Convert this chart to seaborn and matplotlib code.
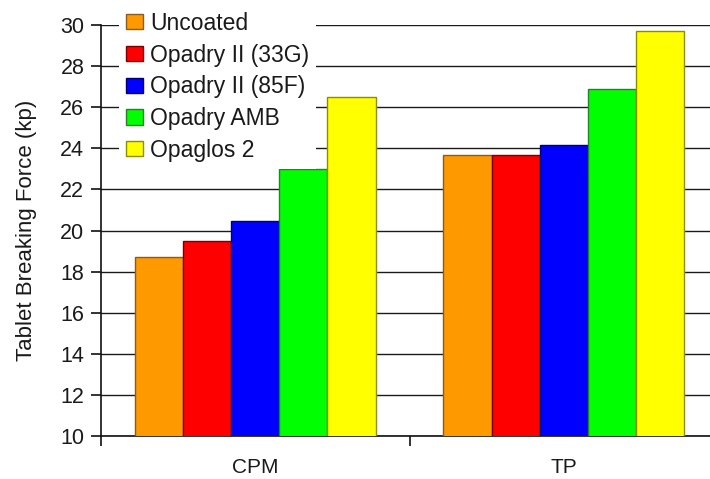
import matplotlib
matplotlib.use('Agg')
import matplotlib.pyplot as plt
from matplotlib.patches import Patch
import pandas as pd
import seaborn as sns

sns.set_theme(style='white')
plt.rcParams['font.family'] = ['Liberation Sans', 'DejaVu Sans']

# data
products = ['CPM', 'TP']
coatings = ['Uncoated', 'Opadry II (33G)', 'Opadry II (85F)', 'Opadry AMB', 'Opaglos 2']
cpm_force = [18.7, 19.5, 20.45, 23.0, 26.5]
tp_force = [23.65, 23.65, 24.15, 26.9, 29.7]

face_colors = ['#FF9900', '#FF0000', '#0000FF', '#00FF00', '#FFFF00']
edge_colors = ['#8A5A1E', '#7A0000', '#000070', '#2E7D2E', '#8C8C00']

df = pd.DataFrame({
    'product': [p for p in products for _ in coatings],
    'coating': coatings * len(products),
    'force': cpm_force + tp_force,
})

fig = plt.figure(figsize=(7.1, 4.79), dpi=100)
ax = fig.add_axes([101 / 710, 1 - 436 / 479, 1 - 101 / 710, (436 - 25) / 479])

sns.barplot(data=df, x='product', y='force', hue='coating', order=products,
            hue_order=coatings, palette=face_colors, saturation=1, width=0.78,
            legend=False, ax=ax, zorder=3)

for cont, ec in zip(ax.containers, edge_colors):
    for bar in cont:
        bar.set_edgecolor(ec)
        bar.set_linewidth(1.0)

ax.set_ylim(10, 30)
ax.set_yticks(range(10, 31, 2))
ax.set_xlim(-0.5, 1.474)
ax.set_axisbelow(True)
ax.yaxis.grid(True, color='#1a1a1a', linewidth=1.0)
ax.xaxis.grid(False)

for side in ['top', 'right']:
    ax.spines[side].set_visible(False)
for side in ['left', 'bottom']:
    ax.spines[side].set_color('#111111')
    ax.spines[side].set_linewidth(1.2)

# category labels centered, ticks on category boundaries
ax.set_xticks([0, 1])
ax.set_xticklabels(products)
ax.set_xticks([-0.5, 0.5], minor=True)
ax.tick_params(axis='x', which='major', length=0, pad=16, labelsize=15, labelcolor='#1a1a1a')
ax.tick_params(axis='x', which='minor', bottom=True, length=7, width=1.2, color='#111111', direction='out')
ax.tick_params(axis='y', left=True, length=7, width=1.2, color='#111111', direction='out',
               labelsize=15.5, labelcolor='#1a1a1a', pad=5)

ax.set_xlabel('')
ax.set_ylabel('Tablet Breaking Force (kp)', fontsize=16, color='#1a1a1a', labelpad=17)

handles = [Patch(facecolor=fc, edgecolor=ec, linewidth=1.0) for fc, ec in zip(face_colors, edge_colors)]
leg = fig.legend(handles, coatings, loc='upper left', bbox_to_anchor=(119 / 710, 1 - 5 / 479),
                 bbox_transform=fig.transFigure, fontsize=16.5, frameon=True, fancybox=False,
                 borderpad=0.3, labelspacing=0.38, handlelength=0.75, handleheight=0.65,
                 handletextpad=0.3, borderaxespad=0)
leg.get_frame().set_facecolor('white')
leg.get_frame().set_edgecolor('none')
leg.get_frame().set_alpha(1)
for t in leg.get_texts():
    t.set_color('#1a1a1a')

fig.savefig('out.png', dpi=100)
